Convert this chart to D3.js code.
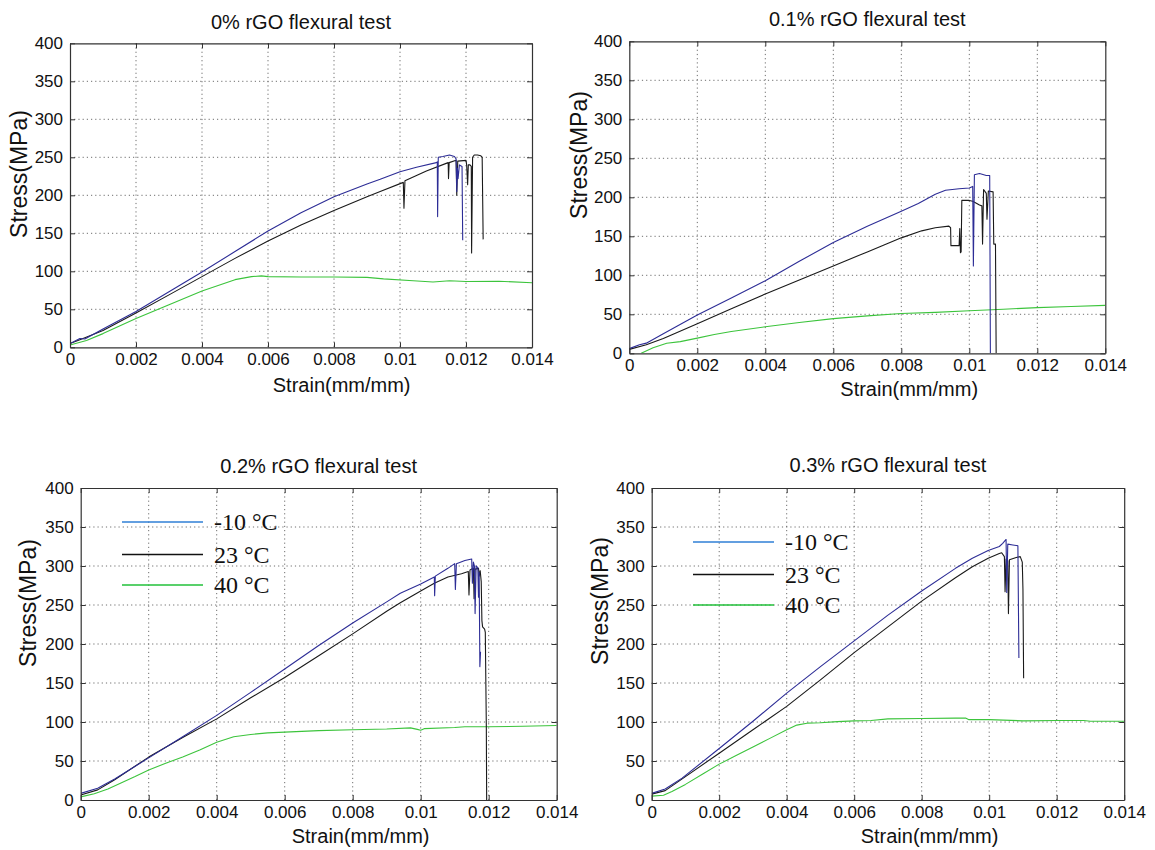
<!DOCTYPE html>
<html><head><meta charset="utf-8">
<script src="https://cdn.jsdelivr.net/npm/d3@7"></script>
<style>body{margin:0;background:#fff}svg{display:block}</style>
</head><body>
<svg id="chart" width="1155" height="850"></svg>
<script>
// ---------- data ----------
const panelTitles = ["0% rGO flexural test", "0.1% rGO flexural test", "0.2% rGO flexural test", "0.3% rGO flexural test"];
const seriesNames = ["-10 °C", "23 °C", "40 °C"];
const strainTicks = [0, 0.002, 0.004, 0.006, 0.008, 0.01, 0.012, 0.014];
const strainTickLabels = ["0", "0.002", "0.004", "0.006", "0.008", "0.01", "0.012", "0.014"];
const stressTicks = [0, 50, 100, 150, 200, 250, 300, 350, 400];
const xLabel = "Strain(mm/mm)";
const yLabel = "Stress(MPa)";

// 0% rGO
const p0_m10 = [[0,5],[0.0003,11.5],[0.00045,11],[0.001,24],[0.002,47],[0.003,73],[0.004,99],[0.005,126],[0.006,153],[0.007,177],[0.008,198],[0.009,215],[0.0094,221],[0.01,231],[0.0105,237],[0.0111,243],[0.01113,244],[0.01114,172],[0.01116,250],[0.0113,251],[0.0115,253],[0.01165,251],[0.0117,248],[0.01172,205],[0.01174,236],[0.01176,222],[0.0118,240],[0.01188,238],[0.0119,141]];
const p0_23 = [[0,5],[0.0003,10],[0.001,22],[0.002,45],[0.003,69],[0.004,93],[0.005,117],[0.006,140],[0.007,161],[0.008,180],[0.009,198],[0.0094,205],[0.0101,217],[0.01012,183],[0.01015,219],[0.0108,232],[0.0114,242],[0.01146,243],[0.01147,222],[0.01149,243],[0.0117,246],[0.01172,200],[0.01175,245],[0.012,246],[0.01202,240],[0.01205,214],[0.01207,240],[0.01212,240],[0.01216,238],[0.01217,124],[0.0122,250],[0.01225,253],[0.01235,253],[0.01245,252],[0.01249,250],[0.01252,142]];
const p0_40 = [[0,3],[0.0005,9],[0.001,18],[0.002,38],[0.003,56],[0.004,74],[0.005,89],[0.0055,93],[0.0058,94],[0.006,93],[0.007,92.5],[0.008,92.5],[0.009,92],[0.0095,90],[0.0104,87.5],[0.011,86],[0.0115,87.5],[0.012,86.5],[0.013,87],[0.014,85]];

// 0.1% rGO
const p1_m10 = [[0,6],[0.0003,11],[0.0005,13],[0.001,25],[0.002,49],[0.003,71],[0.004,93],[0.005,118],[0.006,142],[0.007,163],[0.008,182],[0.0085,192],[0.009,204],[0.0093,209],[0.0097,211],[0.01,212],[0.0101,214],[0.01012,112],[0.01015,229],[0.0103,230.5],[0.0105,228],[0.0106,228],[0.01062,0]];
const p1_23 = [[0,5],[0.0005,11],[0.001,19],[0.002,38],[0.003,57],[0.004,76],[0.005,94],[0.006,112],[0.007,130],[0.008,148],[0.0086,157],[0.009,161],[0.0094,163],[0.00945,161],[0.00946,138],[0.0097,138],[0.00972,160],[0.00974,129],[0.00976,130],[0.00978,196],[0.01,196],[0.0101,195],[0.0103,190],[0.01037,189],[0.01039,140],[0.01042,210],[0.0105,205],[0.01052,172],[0.01056,208],[0.0107,207],[0.01072,140],[0.01077,140],[0.01079,0]];
const p1_40 = [[0.00035,0],[0.0007,7],[0.0011,12.8],[0.0015,15],[0.002,19.5],[0.0025,24],[0.003,28],[0.004,34],[0.005,39.5],[0.006,44.5],[0.007,48],[0.008,51],[0.009,52.5],[0.01,54.5],[0.011,56.5],[0.012,58.5],[0.013,60],[0.014,61.5]];

// 0.2% rGO
const p2_m10 = [[0,8.5],[0.0005,15],[0.001,27],[0.002,54],[0.003,81],[0.004,108.5],[0.005,138],[0.006,168],[0.007,198],[0.008,227],[0.009,254],[0.0094,265],[0.01,277],[0.0104,286],[0.01041,262],[0.01043,287],[0.0108,297],[0.011,303],[0.01102,270],[0.01105,303],[0.0113,307],[0.0115,309],[0.01152,278],[0.01155,305],[0.01158,300],[0.0116,239],[0.01163,300],[0.01168,298],[0.0117,260],[0.01172,292],[0.01174,171],[0.01176,190]];
const p2_23 = [[0,6.5],[0.0005,13],[0.001,26],[0.002,55],[0.003,80],[0.004,104],[0.005,131],[0.006,157],[0.007,185],[0.008,213],[0.009,242],[0.0094,253],[0.01,268],[0.0104,278],[0.0108,286],[0.0112,290],[0.0114,293],[0.01142,263],[0.01145,295],[0.0115,296],[0.01155,297],[0.01157,258],[0.0116,296],[0.0117,297],[0.01172,287],[0.01175,294],[0.01178,280],[0.0118,230],[0.01182,222],[0.01188,219],[0.0119,215],[0.01193,95],[0.01194,0]];
const p2_40 = [[0,4],[0.0004,8],[0.0008,14],[0.0012,22],[0.0016,30],[0.002,38.5],[0.0025,47],[0.003,55],[0.0035,64],[0.004,74],[0.0045,81],[0.005,84],[0.0055,86],[0.006,87],[0.007,89],[0.008,90],[0.009,91],[0.0097,92.5],[0.0099,90.5],[0.01,89.5],[0.0101,91.5],[0.011,93],[0.0113,94],[0.012,94],[0.013,94.5],[0.014,95.5]];

// 0.3% rGO
const p3_m10 = [[0,8.5],[0.0004,14],[0.0009,28],[0.002,66],[0.003,101],[0.004,137],[0.005,171],[0.006,204],[0.007,237],[0.008,268],[0.009,297],[0.0095,310],[0.00997,320],[0.0103,325],[0.0104,329],[0.0105,334],[0.01052,266],[0.01055,328],[0.0107,327],[0.01085,326],[0.01088,182]];
const p3_23 = [[0,7.5],[0.0004,12],[0.001,30],[0.002,60],[0.003,90],[0.004,120],[0.005,154],[0.006,189],[0.007,222],[0.008,255],[0.009,285],[0.0095,299],[0.00997,310],[0.0103,316],[0.01037,317],[0.01045,312],[0.01047,267],[0.0105,309],[0.01055,307],[0.01057,239],[0.0106,308],[0.0108,311],[0.01092,312],[0.01098,305],[0.011,270],[0.01102,156]];
const p3_40 = [[0,5],[0.00035,6],[0.0006,11],[0.001,20],[0.0015,33],[0.002,46],[0.0025,57],[0.003,68],[0.0035,79],[0.004,90],[0.0043,96],[0.0046,98.5],[0.005,99],[0.0055,100.5],[0.006,101.5],[0.0065,102],[0.007,104],[0.008,104.5],[0.009,105],[0.0093,105],[0.0094,103],[0.01,103],[0.011,101.5],[0.012,102],[0.0128,102],[0.013,101],[0.014,101]];

const panelSeries = [[p0_m10,p0_23,p0_40],[p1_m10,p1_23,p1_40],[p2_m10,p2_23,p2_40],[p3_m10,p3_23,p3_40]];

// ---------- styling / layout ----------
const lineColors = ["#2d2d96", "#1a1a1a", "#3cc43c"];
const legendColors = ["#2f7fd6", "#111111", "#22c03a"];
const layout = [
  {x:70,    y:43.3, w:462, h:304, titleY:22,  xlabY:385, ylabX:20,  ylabY:174, legend:false},
  {x:629.3, y:41.3, w:476, h:312, titleY:19,  xlabY:389, ylabX:580, ylabY:155, legend:false},
  {x:80.7,  y:488,  w:476, h:312, titleY:466, xlabY:836, ylabX:29,  ylabY:603, legend:true, lgX:122, lgY:522},
  {x:651.7, y:488,  w:472.5,h:312,titleY:465, xlabY:836, ylabX:601, ylabY:601, legend:true, lgX:693, lgY:542}
];

const svg = d3.select("#chart");
const sans = "'Liberation Sans', Arial, Helvetica, sans-serif";

layout.forEach((L, i) => {
  const x = d3.scaleLinear().domain([0, 0.014]).range([L.x, L.x + L.w]);
  const y = d3.scaleLinear().domain([0, 400]).range([L.y + L.h, L.y]);
  const g = svg.append("g");
  const clipId = "clip" + i;
  svg.append("clipPath").attr("id", clipId).append("rect")
    .attr("x", L.x).attr("y", L.y).attr("width", L.w).attr("height", L.h);

  // grid
  const grid = g.append("g").attr("stroke", "#6e6e6e").attr("stroke-width", 1).attr("stroke-dasharray", "1.2,3");
  strainTicks.slice(1, -1).forEach(t => grid.append("line")
    .attr("x1", x(t)).attr("x2", x(t)).attr("y1", L.y).attr("y2", L.y + L.h));
  stressTicks.slice(1, -1).forEach(t => grid.append("line")
    .attr("x1", L.x).attr("x2", L.x + L.w).attr("y1", y(t)).attr("y2", y(t)));

  // data lines
  const line = d3.line().x(d => x(d[0])).y(d => y(d[1]));
  const dg = g.append("g").attr("clip-path", `url(#${clipId})`);
  [2, 1, 0].forEach(s => {
    dg.append("path").datum(panelSeries[i][s]).attr("d", line)
      .attr("fill", "none").attr("stroke", lineColors[s]).attr("stroke-width", 1.1)
      .attr("stroke-linejoin", "round");
  });

  // axes - inward ticks on all four sides
  const ax = d3.axisBottom(x).tickValues(strainTicks).tickFormat((d, k) => strainTickLabels[k]).tickSizeInner(-5).tickSizeOuter(0).tickPadding(6);
  const ay = d3.axisLeft(y).tickValues(stressTicks).tickFormat(d3.format("d")).tickSizeInner(-5).tickSizeOuter(0).tickPadding(7);
  const axT = d3.axisTop(x).tickValues(strainTicks).tickFormat("").tickSizeInner(-5).tickSizeOuter(0);
  const ayR = d3.axisRight(y).tickValues(stressTicks).tickFormat("").tickSizeInner(-5).tickSizeOuter(0);
  const style = sel => {
    sel.selectAll("path").attr("stroke", "#333").attr("stroke-width", 1.2);
    sel.selectAll("line").attr("stroke", "#333");
    sel.selectAll("text").attr("font-family", sans).attr("font-size", 17).attr("fill", "#111");
  };
  g.append("g").attr("transform", `translate(0,${L.y + L.h})`).call(ax).call(style);
  g.append("g").attr("transform", `translate(${L.x},0)`).call(ay).call(style);
  g.append("g").attr("transform", `translate(0,${L.y})`).call(axT).call(style);
  g.append("g").attr("transform", `translate(${L.x + L.w},0)`).call(ayR).call(style);

  // title
  g.append("text").attr("x", L.x + L.w / 2).attr("y", L.titleY + 7)
    .attr("text-anchor", "middle").attr("font-family", sans).attr("font-size", 20).attr("fill", "#111")
    .text(panelTitles[i]);
  // x label
  g.append("text").attr("x", L.x + 0.588 * L.w).attr("y", L.xlabY + 7)
    .attr("text-anchor", "middle").attr("font-family", sans).attr("font-size", 20).attr("fill", "#111")
    .text(xLabel);
  // y label
  g.append("text").attr("transform", `translate(${L.ylabX + 7},${L.ylabY}) rotate(-90)`)
    .attr("text-anchor", "middle").attr("font-family", sans).attr("font-size", 23).attr("fill", "#111")
    .text(yLabel);

  // legend
  if (L.legend) {
    const lg = g.append("g");
    const rowGap = [0, 32.5, 63];
    seriesNames.forEach((n, s) => {
      const yy = L.lgY + rowGap[s];
      lg.append("line").attr("x1", L.lgX).attr("x2", L.lgX + 81).attr("y1", yy).attr("y2", yy)
        .attr("stroke", legendColors[s]).attr("stroke-width", 1.6);
      lg.append("text").attr("x", L.lgX + 92).attr("y", yy + 8)
        .attr("font-family", "'Liberation Serif', 'Times New Roman', serif").attr("font-size", 24).attr("fill", "#111")
        .text(n);
    });
  }
});
</script>
</body></html>
